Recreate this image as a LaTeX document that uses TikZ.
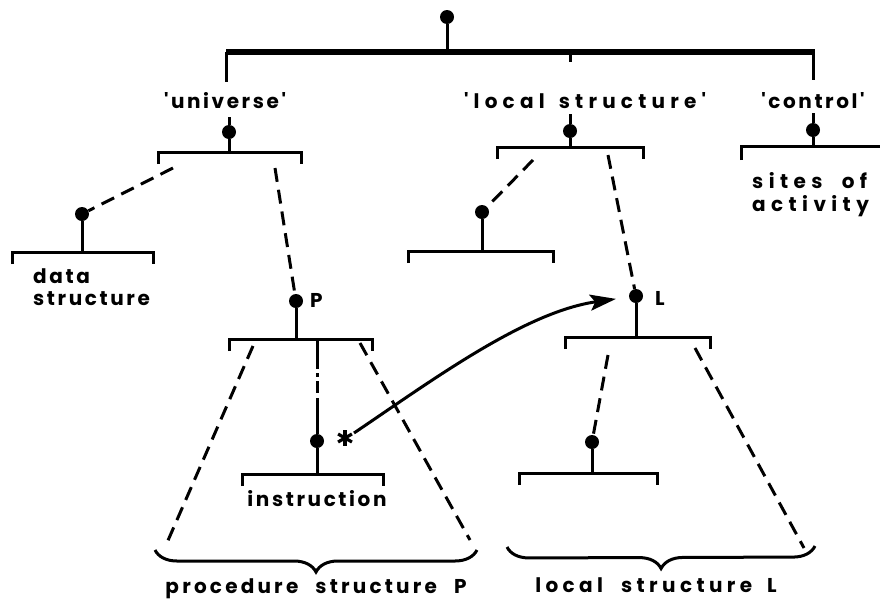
\documentclass[tikz,border=0pt]{standalone}
\usepackage{fontspec}
\setmainfont{Poppins}
\newfontfamily\lblfont[LetterSpace=13,WordSpace=3]{Poppins}
\newfontfamily\lblproc[LetterSpace=16,WordSpace=2.3]{Poppins}
\newfontfamily\lblloc[LetterSpace=26,WordSpace=1.5]{Poppins}
\newfontfamily\lblbot[LetterSpace=22]{Poppins}
\newfontfamily\lblwide[LetterSpace=27,WordSpace=2]{Poppins}
\usetikzlibrary{arrows.meta,decorations.pathreplacing}
\newcommand\brkt[3]{\draw[ln] (#1,#3+12) |- (#2,#3) -- (#2,#3+12);}
\begin{document}
\begin{tikzpicture}[x=1pt,y=-1pt,
  ln/.style={line width=3pt},
  bus/.style={line width=5.5pt},
  dsh/.style={line width=3pt, dash pattern=on 14pt off 8pt},
  dot/.style={circle,fill,inner sep=0pt,minimum size=14pt},
  lab/.style={font=\lblfont\bfseries\fontsize{20}{22}\selectfont, anchor=base, inner sep=0pt},
  labw/.style={lab, anchor=base west},
  labx/.style={font=\lblwide\bfseries\fontsize{20}{22}\selectfont, anchor=base west, inner sep=0pt},
  labl/.style={font=\lblloc\bfseries\fontsize{20}{22}\selectfont, anchor=base, inner sep=0pt},
  labb/.style={font=\lblbot\bfseries\fontsize{20}{22}\selectfont, anchor=base, inner sep=0pt},
  labp/.style={font=\lblproc\bfseries\fontsize{20}{22}\selectfont, anchor=base, inner sep=0pt},
  brc/.style={line width=3pt, decorate, decoration={brace, mirror, amplitude=22pt}}
]
\useasboundingbox (0,0) rectangle (880,603);
% root
\node[dot] (top) at (447,17) {};
\coordinate (busT) at (447,52);
\coordinate (busL) at (226,52);
\coordinate (busM) at (570,52);
\coordinate (busR) at (815,52);
\coordinate (busC) at (813,52);
\draw[bus] (busL) -- (busR);
\draw[ln] (top) -- (busT);
\coordinate (uS) at (226,82);
\coordinate (mS) at (570,62);
\coordinate (cS) at (813,80);
\draw[ln] (busL) -- (uS);
\draw[ln] (busM) -- (mS);
\draw[ln] (busC) -- (cS);
\node[lab] (uni) at (225,108) {'universe'};
\node[labl] (loc) at (585,108) {'local structure'};
\node[lab] (ctl) at (813,108) {'control'};

% universe
\coordinate (udT) at (229,117);
\node[dot] (ud) at (229,132) {};
\coordinate (ub) at (229,152);
\draw[ln] (udT) -- (ud) -- (ub);
\brkt{158}{301}{152}
\coordinate (uL) at (173,168);
\coordinate (uR) at (275,168);
\node[dot] (dd) at (82,214) {};
\draw[dsh] (uL) -- (dd);
\coordinate (db) at (82,252);
\draw[ln] (dd) -- (db);
\brkt{12}{153}{252}
\node[labw] (dtxt) at (33,283) {data};
\node[labw] (stxt) at (33,305) {structure};

% P
\node[dot] (Pd) at (296,301) {};
\draw[dsh] (uR) -- (Pd);
\node[labw] (Plab) at (310,307) {P};
\coordinate (Pb) at (296,339);
\draw[ln] (Pd) -- (Pb);
\brkt{229}{372}{339}
\coordinate (Pm) at (317,339);
\node[dot] (id) at (317,441) {};
\draw[line width=3pt, dash pattern=on 30pt off 4pt on 4pt off 4pt on 12pt off 5pt on 80pt] (Pm) -- (id);
\coordinate (ib) at (317,474);
\draw[ln] (id) -- (ib);
\brkt{242}{383}{474}
\node[lab] (itxt) at (317,506) {instruction};
\coordinate (PL1) at (253,346);
\coordinate (PL2) at (166,545);
\coordinate (PR1) at (360,343);
\coordinate (PR2) at (470,540);
\draw[dsh] (PL1) -- (PL2);
\draw[dsh] (PR1) -- (PR2);
\draw[brc] (155,550) -- (477,550);
\node[labp] (ptxt) at (316,593) {procedure structure P};

% star
\coordinate (star) at (345,438);
\foreach \a in {90,30,150,210,330,270} \draw[line width=3.2pt] (star) -- ++(\a:8pt);

% local structure
\coordinate (ldT) at (570,114);
\node[dot] (ld) at (570,131) {};
\coordinate (lb) at (570,147);
\draw[ln] (ldT) -- (ld) -- (lb);
\brkt{497}{643}{147}
\coordinate (lL) at (533,160);
\coordinate (lR) at (608,155);
\node[dot] (lsd) at (482,212) {};
\draw[dsh] (lL) -- (lsd);
\coordinate (lsb) at (482,251);
\draw[ln] (lsd) -- (lsb);
\brkt{408}{553}{251}
\node[dot] (Ld) at (636,296) {};
\draw[dsh] (lR) -- (Ld);
\node[labw] (Llab) at (655,305) {L};
\coordinate (Lb) at (636,337);
\draw[ln] (Ld) -- (Lb);
\brkt{565}{710}{337}
\coordinate (LL) at (608,355);
\coordinate (LR1) at (695,348);
\coordinate (LR2) at (804,548);
\node[dot] (l2d) at (592,442) {};
\draw[dsh] (LL) -- (l2d);
\coordinate (l2b) at (592,473);
\draw[ln] (l2d) -- (l2b);
\brkt{519}{657}{473}
\draw[dsh] (LR1) -- (LR2);
\draw[brc] (507,547) -- (815,546);
\node[labb] (ltxt) at (656,592) {local\hspace{18pt}structure\hspace{15pt}L};

% control
\coordinate (cdT) at (813,113);
\node[dot] (cd) at (813,130) {};
\coordinate (cb) at (813,146);
\draw[ln] (cdT) -- (cd) -- (cb);
\draw[ln] (741,160) |- (880,146);
\node[labx] (s1) at (752,188) {sites of};
\node[labx] (s2) at (752,211) {activity};

% arrow
\coordinate (arrS) at (354,433);
\draw[ln, shorten >=13pt, -{Stealth[length=26pt,width=16pt,inset=5pt]}] (arrS) .. controls (434,379) and (525,312) .. (Ld);
\end{tikzpicture}
\end{document}
